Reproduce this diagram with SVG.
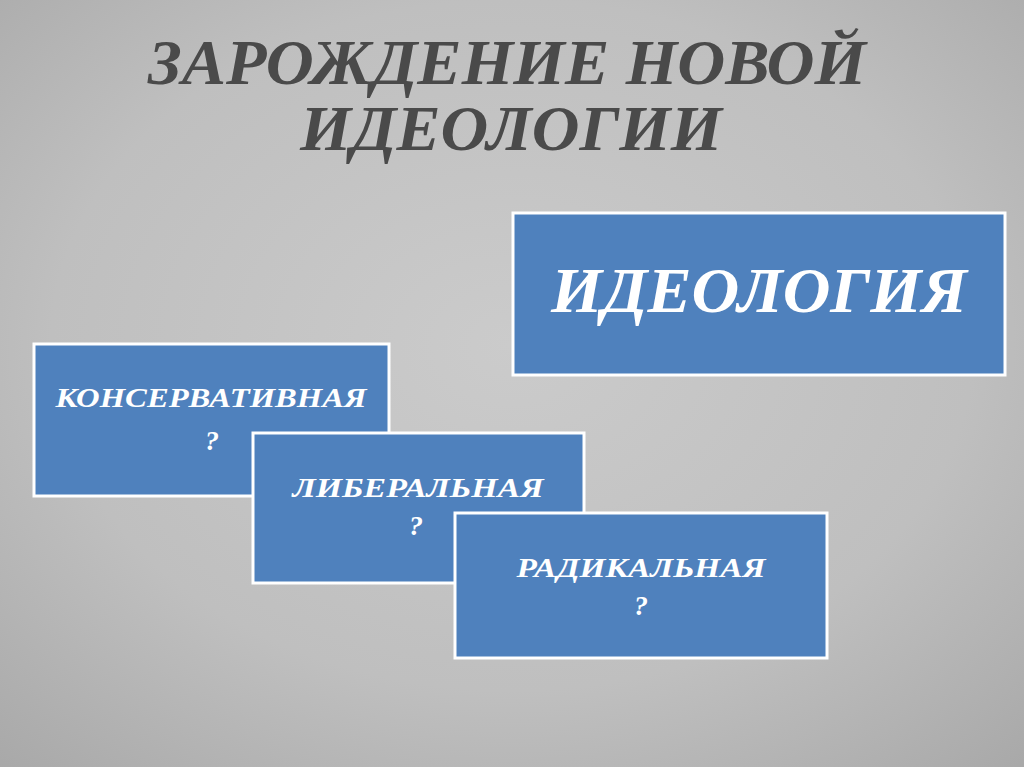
<svg xmlns="http://www.w3.org/2000/svg" width="1024" height="767" viewBox="0 0 1024 767">
<defs>
<radialGradient id="bg" cx="0.5" cy="0.45" r="0.75">
<stop offset="0" stop-color="#cbcbcb"/>
<stop offset="0.6" stop-color="#bfbfbf"/>
<stop offset="1" stop-color="#a8a8a8"/>
</radialGradient>
</defs>
<style>
.title{font-family:"Liberation Serif","DejaVu Serif",serif;font-weight:bold;font-style:italic;fill:#4a4a4a;text-anchor:middle}
.box{fill:#4f81bd;stroke:#ffffff;stroke-width:3}
.lbl{font-family:"Liberation Serif","DejaVu Serif",serif;font-weight:bold;font-style:italic;fill:#ffffff;text-anchor:middle}
</style>
<rect x="0" y="0" width="1024" height="767" fill="url(#bg)"/>
<g id="title">
<text class="title" x="507" y="84" font-size="64" textLength="718" lengthAdjust="spacingAndGlyphs">ЗАРОЖДЕНИЕ НОВОЙ</text>
<text class="title" x="511" y="150" font-size="64" textLength="422" lengthAdjust="spacingAndGlyphs">ИДЕОЛОГИИ</text>
</g>
<g id="connectors"></g>
<g id="ideology">
<rect class="box" x="513" y="213" width="492" height="162"/>
<text class="lbl" x="759" y="312" font-size="63" textLength="416" lengthAdjust="spacingAndGlyphs">ИДЕОЛОГИЯ</text>
</g>
<g id="conservative">
<rect class="box" x="34" y="344" width="355" height="152"/>
<text class="lbl" x="211" y="407" font-size="28" textLength="311" lengthAdjust="spacingAndGlyphs">КОНСЕРВАТИВНАЯ</text>
<text class="lbl" x="212" y="450" font-size="28">?</text>
</g>
<g id="liberal">
<rect class="box" x="253" y="433" width="331" height="150"/>
<text class="lbl" x="418" y="497" font-size="28" textLength="251" lengthAdjust="spacingAndGlyphs">ЛИБЕРАЛЬНАЯ</text>
<text class="lbl" x="416" y="535" font-size="28">?</text>
</g>
<g id="radical">
<rect class="box" x="455" y="513" width="372" height="145"/>
<text class="lbl" x="641" y="577" font-size="28" textLength="249" lengthAdjust="spacingAndGlyphs">РАДИКАЛЬНАЯ</text>
<text class="lbl" x="641" y="615" font-size="28">?</text>
</g>
</svg>
